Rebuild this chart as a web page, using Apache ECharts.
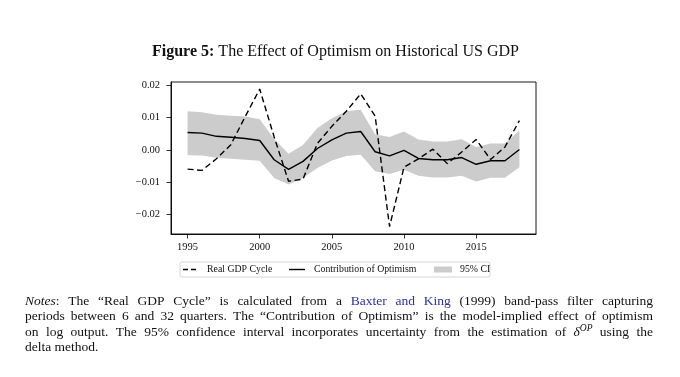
<!DOCTYPE html>
<html><head><meta charset="utf-8">
<script src="https://cdn.jsdelivr.net/npm/echarts@6/dist/echarts.min.js"></script>
<style>html,body{margin:0;padding:0;background:#fff}#c{width:680px;height:377px}</style>
</head><body><div id="c"></div>
<script>
const years = [1995,1996,1997,1998,1999,2000,2001,2002,2003,2004,2005,2006,2007,2008,2009,2010,2011,2012,2013,2014,2015,2016,2017,2018];
const gdpCycle = [-0.0060,-0.0064,-0.0028,0.0016,0.0104,0.0189,0.0040,-0.0098,-0.0091,0.0020,0.0073,0.0120,0.0174,0.0105,-0.0239,-0.0054,-0.0028,0.0002,-0.0043,-0.0007,0.0032,-0.0030,0.0009,0.0091];
const optimism = [0.0054,0.0052,0.0042,0.0039,0.0035,0.0029,-0.0031,-0.0061,-0.0036,0.0004,0.0031,0.0052,0.0057,-0.0006,-0.0019,-0.0002,-0.0027,-0.0031,-0.0031,-0.0024,-0.0045,-0.0034,-0.0034,0.0001];
const ciUpper = [0.0120,0.0117,0.0109,0.0106,0.0104,0.0095,0.0034,-0.0012,0.0015,0.0068,0.0098,0.0120,0.0125,0.0048,0.0040,0.0057,0.0032,0.0026,0.0026,0.0033,0.0009,0.0020,0.0020,0.0060];
const ciLower = [-0.0017,-0.0018,-0.0025,-0.0028,-0.0031,-0.0034,-0.0088,-0.0108,-0.0088,-0.0057,-0.0033,-0.0019,-0.0015,-0.0067,-0.0075,-0.0062,-0.0081,-0.0086,-0.0086,-0.0081,-0.0099,-0.0087,-0.0087,-0.0054];
const xTicks = [1995,2000,2005,2010,2015];
const yTicks = [-0.02,-0.01,0,0.01,0.02];
const legendNames = ['Real GDP Cycle','Contribution of Optimism','95% CI'];

const SERIF = '"Liberation Serif","DejaVu Serif",serif';
const chart = echarts.init(document.getElementById('c'), null, {renderer:'canvas'});
const band = years.map((y,i)=>[y, ciLower[i], ciUpper[i]]);

const notesLines = [
  [[{t:'Notes',i:1},{t:':'}],'The','“Real','GDP','Cycle”','is','calculated','from','a',[{t:'Baxter',b:1}],[{t:'and',b:1}],[{t:'King',b:1}],'(1999)','band-pass','filter','capturing'],
  ['periods','between','6','and','32','quarters.','The','“Contribution','of','Optimism”','is','the','model-implied','effect','of','optimism'],
  ['on','log','output.','The','95%','confidence','interval','incorporates','uncertainty','from','the','estimation','of',[{t:'δ',i:1},{t:'OP',i:1,s:1}],'using','the'],
  ['delta','method.']
];
const FS = 13.5;
const cv = document.createElement('canvas').getContext('2d');
function fontOf(seg){ return (seg.i?'italic ':'') + (seg.s? 9.5 : FS) + 'px ' + SERIF; }
function segW(seg){ cv.font = fontOf(seg); return cv.measureText(seg.t).width; }
const graphics = [];
const L = 25, R = 653;
notesLines.forEach((line, li)=>{
  const words = line.map(w => typeof w === 'string' ? [{t:w}] : w);
  const widths = words.map(w => w.reduce((a,s)=>a+segW(s),0));
  const total = widths.reduce((a,b)=>a+b,0);
  const last = li === notesLines.length-1;
  const gap = last ? segW({t:' '}) : (R-L-total)/(words.length-1);
  let x = L;
  const yBase = 306 + li*15.3;
  words.forEach((w,wi)=>{
    let sx = x;
    w.forEach(seg=>{
      const fs = seg.s ? 9.5 : FS;
      graphics.push({type:'text', left: sx, top: yBase - (seg.s?5:0) - fs*0.86, silent:true,
        style:{text:seg.t, font: fontOf(seg), fill: seg.b ? '#2f2f9a' : '#111'}});
      sx += segW(seg);
    });
    x += widths[wi] + gap;
  });
});
graphics.push({type:'text', left:152, top:57.5-16*0.86, silent:true,
  style:{text:'{b|Figure 5:} The Effect of Optimism on Historical US GDP', font:'16px '+SERIF, fill:'#111',
    rich:{b:{font:'bold 16px '+SERIF, fill:'#111'}}}});
const LY = 269.5, LFS = 9.8;
graphics.push({type:'rect', shape:{x:180, y:262, width:310, height:15, r:2}, silent:true,
  style:{fill:'#fff', stroke:'#cccccc', lineWidth:0.8}, z:10});
graphics.push({type:'line', shape:{x1:183, y1:LY, x2:197, y2:LY}, silent:true,
  style:{stroke:'#000', lineWidth:1.4, lineDash:[5,3]}, z:11});
graphics.push({type:'line', shape:{x1:289, y1:LY, x2:305, y2:LY}, silent:true,
  style:{stroke:'#000', lineWidth:1.4}, z:11});
graphics.push({type:'rect', shape:{x:434, y:LY-3, width:18, height:6}, silent:true,
  style:{fill:'#cccccc'}, z:11});
[[207,legendNames[0]],[314,legendNames[1]],[460,legendNames[2]]].forEach(([x,t])=>{
  graphics.push({type:'text', left:x, top:LY - LFS/2 - 0.5, silent:true, z:11,
    style:{text:t, font:LFS+'px '+SERIF, fill:'#111'}});
});

const option = {
  animation:false,
  backgroundColor:'#fff',
  grid:{left:171, right:144, top:82, bottom:143, show:true, borderColor:'#000', borderWidth:0.9, backgroundColor:'transparent'},
  xAxis:{type:'value', min:1993.85, max:2019.15, splitLine:{show:false},
    axisLine:{show:true, onZero:false, lineStyle:{color:'#000', width:0.9}},
    axisTick:{show:true, length:4.5, lineStyle:{color:'#000', width:0.8}, customValues:xTicks},
    axisLabel:{customValues:xTicks, color:'#111', fontFamily:SERIF, fontSize:10.5, margin:8, formatter:v=>String(v)}},
  yAxis:{type:'value', min:-0.0262, max:0.0211, splitLine:{show:false},
    axisLine:{show:true, lineStyle:{color:'#000', width:0.9}},
    axisTick:{show:true, length:4.5, lineStyle:{color:'#000', width:0.8}, customValues:yTicks},
    axisLabel:{customValues:yTicks, color:'#111', fontFamily:SERIF, fontSize:10.5, margin:11,
      formatter:v=>{ const s=Math.abs(v).toFixed(2); return (v< -1e-9?'\u2212':'')+s; }}},
  series:[
    {name:legendNames[2], type:'custom', data:band, z:1, itemStyle:{color:'#cccccc'},
      encode:{x:0, y:[1,2]},
      renderItem:(params, api)=>{
        if (params.dataIndex !== 0) return null;
        const up = band.map(d=>api.coord([d[0], d[2]]));
        const lo = band.map(d=>api.coord([d[0], d[1]])).reverse();
        return {type:'polygon', shape:{points:up.concat(lo)}, style:{fill:'#cccccc'}};
      }},
    {name:legendNames[0], type:'line', data:years.map((y,i)=>[y,gdpCycle[i]]), showSymbol:false, symbol:'none', z:3,
      itemStyle:{color:'#000'}, lineStyle:{color:'#000', width:1.4, type:[6,3.5]}},
    {name:legendNames[1], type:'line', data:years.map((y,i)=>[y,optimism[i]]), showSymbol:false, symbol:'none', z:3,
      itemStyle:{color:'#000'}, lineStyle:{color:'#000', width:1.4}}
  ],
  graphic: graphics
};
chart.setOption(option);
</script></body></html>
